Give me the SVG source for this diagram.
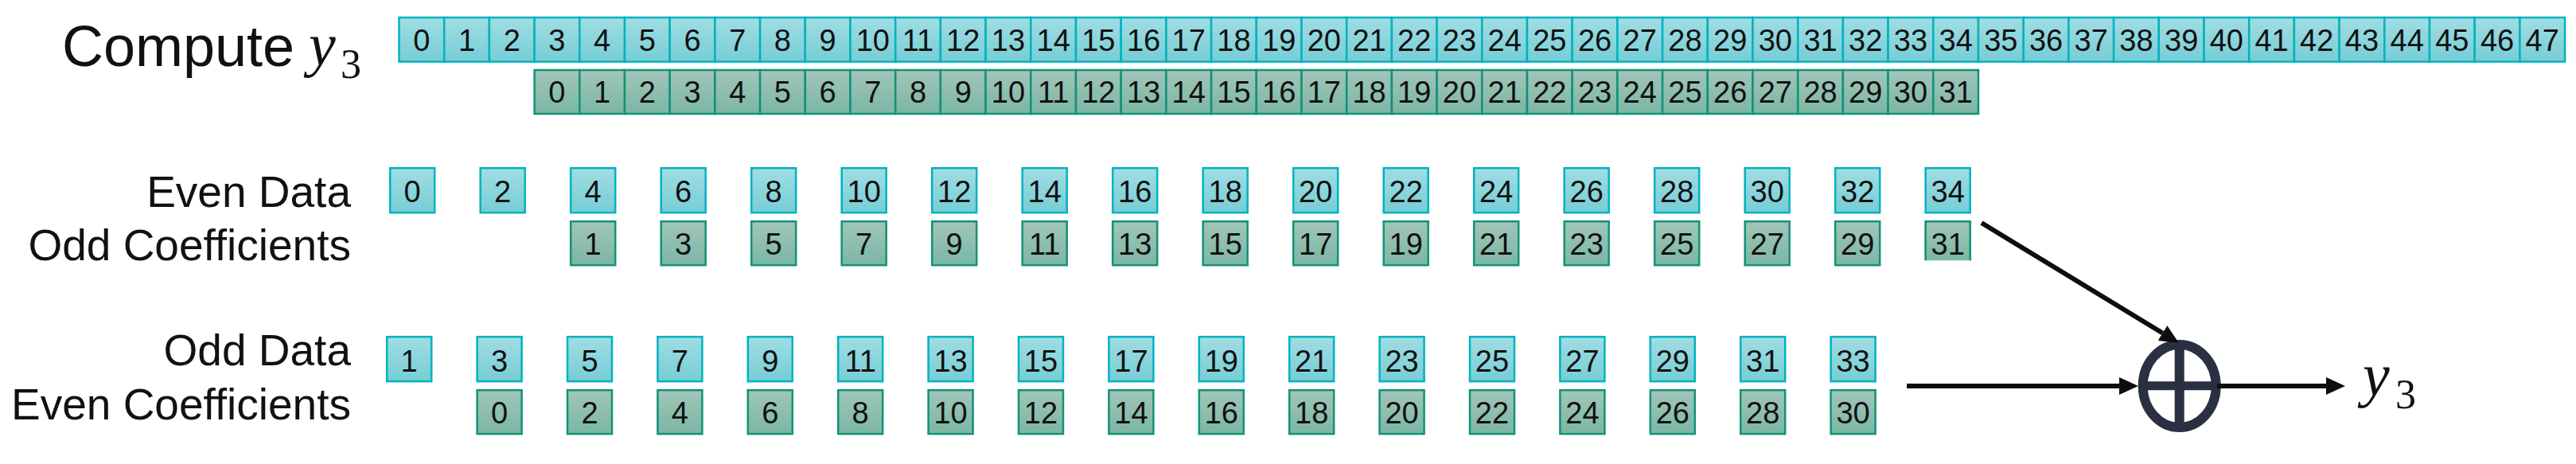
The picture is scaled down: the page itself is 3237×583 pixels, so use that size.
<svg xmlns="http://www.w3.org/2000/svg" width="3237" height="583" viewBox="0 0 3237 583">
<defs>
<linearGradient id="gc" x1="0" y1="0" x2="0" y2="1"><stop offset="0" stop-color="#a1dde4"/><stop offset="1" stop-color="#76cdd5"/></linearGradient>
<linearGradient id="gg" x1="0" y1="0" x2="0" y2="1"><stop offset="0" stop-color="#a2c6b9"/><stop offset="1" stop-color="#7ab6a4"/></linearGradient>
<marker id="ah" markerUnits="userSpaceOnUse" markerWidth="24" markerHeight="22" refX="0" refY="11" orient="auto" viewBox="0 0 24 22"><path d="M0,0 L24,11 L0,22 z" fill="#0d0d0d"/></marker>
</defs>
<style>
.c{fill:url(#gc);stroke:#00b3bf;stroke-width:2.5}
.g{fill:url(#gg);stroke:#129279;stroke-width:2.5}
.gf{fill:url(#gg);stroke:none}
.gs{fill:none;stroke:#129279;stroke-width:2.5}
text{font-family:"Liberation Sans",Arial,sans-serif;fill:#111}
.n{font-size:38px;text-anchor:middle}
.lab{font-size:55px;text-anchor:end}
.conn{stroke:#0d0d0d;stroke-width:6;fill:none}
.sum{stroke:#2a2f42;fill:none}
</style>

<g id="title"><text x="78" y="83" style="font-size:72px">Compute</text><text x="388" y="82" style="font-family:'Liberation Serif','Times New Roman',serif;font-style:italic;font-size:76px">y</text><text x="428" y="98" style="font-family:'Liberation Serif','Times New Roman',serif;font-size:52px">3</text></g>

<g id="labels">
<text class="lab" x="441" y="260">Even Data</text>
<text class="lab" x="441" y="327">Odd Coefficients</text>
<text class="lab" x="441" y="459">Odd Data</text>
<text class="lab" x="441" y="527">Even Coefficients</text>
</g>

<g id="data-row">
<g id="d0" transform="translate(501.5,22)"><rect class="c" width="56.7" height="55.5"/><text class="n" x="28.35" y="42">0</text></g>
<g id="d1" transform="translate(558.2,22)"><rect class="c" width="56.7" height="55.5"/><text class="n" x="28.35" y="42">1</text></g>
<g id="d2" transform="translate(614.9,22)"><rect class="c" width="56.7" height="55.5"/><text class="n" x="28.35" y="42">2</text></g>
<g id="d3" transform="translate(671.6,22)"><rect class="c" width="56.7" height="55.5"/><text class="n" x="28.35" y="42">3</text></g>
<g id="d4" transform="translate(728.3,22)"><rect class="c" width="56.7" height="55.5"/><text class="n" x="28.35" y="42">4</text></g>
<g id="d5" transform="translate(785,22)"><rect class="c" width="56.7" height="55.5"/><text class="n" x="28.35" y="42">5</text></g>
<g id="d6" transform="translate(841.7,22)"><rect class="c" width="56.7" height="55.5"/><text class="n" x="28.35" y="42">6</text></g>
<g id="d7" transform="translate(898.4,22)"><rect class="c" width="56.7" height="55.5"/><text class="n" x="28.35" y="42">7</text></g>
<g id="d8" transform="translate(955.1,22)"><rect class="c" width="56.7" height="55.5"/><text class="n" x="28.35" y="42">8</text></g>
<g id="d9" transform="translate(1011.8,22)"><rect class="c" width="56.7" height="55.5"/><text class="n" x="28.35" y="42">9</text></g>
<g id="d10" transform="translate(1068.5,22)"><rect class="c" width="56.7" height="55.5"/><text class="n" x="28.35" y="42">10</text></g>
<g id="d11" transform="translate(1125.2,22)"><rect class="c" width="56.7" height="55.5"/><text class="n" x="28.35" y="42">11</text></g>
<g id="d12" transform="translate(1181.9,22)"><rect class="c" width="56.7" height="55.5"/><text class="n" x="28.35" y="42">12</text></g>
<g id="d13" transform="translate(1238.6,22)"><rect class="c" width="56.7" height="55.5"/><text class="n" x="28.35" y="42">13</text></g>
<g id="d14" transform="translate(1295.3,22)"><rect class="c" width="56.7" height="55.5"/><text class="n" x="28.35" y="42">14</text></g>
<g id="d15" transform="translate(1352,22)"><rect class="c" width="56.7" height="55.5"/><text class="n" x="28.35" y="42">15</text></g>
<g id="d16" transform="translate(1408.7,22)"><rect class="c" width="56.7" height="55.5"/><text class="n" x="28.35" y="42">16</text></g>
<g id="d17" transform="translate(1465.4,22)"><rect class="c" width="56.7" height="55.5"/><text class="n" x="28.35" y="42">17</text></g>
<g id="d18" transform="translate(1522.1,22)"><rect class="c" width="56.7" height="55.5"/><text class="n" x="28.35" y="42">18</text></g>
<g id="d19" transform="translate(1578.8,22)"><rect class="c" width="56.7" height="55.5"/><text class="n" x="28.35" y="42">19</text></g>
<g id="d20" transform="translate(1635.5,22)"><rect class="c" width="56.7" height="55.5"/><text class="n" x="28.35" y="42">20</text></g>
<g id="d21" transform="translate(1692.2,22)"><rect class="c" width="56.7" height="55.5"/><text class="n" x="28.35" y="42">21</text></g>
<g id="d22" transform="translate(1748.9,22)"><rect class="c" width="56.7" height="55.5"/><text class="n" x="28.35" y="42">22</text></g>
<g id="d23" transform="translate(1805.6,22)"><rect class="c" width="56.7" height="55.5"/><text class="n" x="28.35" y="42">23</text></g>
<g id="d24" transform="translate(1862.3,22)"><rect class="c" width="56.7" height="55.5"/><text class="n" x="28.35" y="42">24</text></g>
<g id="d25" transform="translate(1919,22)"><rect class="c" width="56.7" height="55.5"/><text class="n" x="28.35" y="42">25</text></g>
<g id="d26" transform="translate(1975.7,22)"><rect class="c" width="56.7" height="55.5"/><text class="n" x="28.35" y="42">26</text></g>
<g id="d27" transform="translate(2032.4,22)"><rect class="c" width="56.7" height="55.5"/><text class="n" x="28.35" y="42">27</text></g>
<g id="d28" transform="translate(2089.1,22)"><rect class="c" width="56.7" height="55.5"/><text class="n" x="28.35" y="42">28</text></g>
<g id="d29" transform="translate(2145.8,22)"><rect class="c" width="56.7" height="55.5"/><text class="n" x="28.35" y="42">29</text></g>
<g id="d30" transform="translate(2202.5,22)"><rect class="c" width="56.7" height="55.5"/><text class="n" x="28.35" y="42">30</text></g>
<g id="d31" transform="translate(2259.2,22)"><rect class="c" width="56.7" height="55.5"/><text class="n" x="28.35" y="42">31</text></g>
<g id="d32" transform="translate(2315.9,22)"><rect class="c" width="56.7" height="55.5"/><text class="n" x="28.35" y="42">32</text></g>
<g id="d33" transform="translate(2372.6,22)"><rect class="c" width="56.7" height="55.5"/><text class="n" x="28.35" y="42">33</text></g>
<g id="d34" transform="translate(2429.3,22)"><rect class="c" width="56.7" height="55.5"/><text class="n" x="28.35" y="42">34</text></g>
<g id="d35" transform="translate(2486,22)"><rect class="c" width="56.7" height="55.5"/><text class="n" x="28.35" y="42">35</text></g>
<g id="d36" transform="translate(2542.7,22)"><rect class="c" width="56.7" height="55.5"/><text class="n" x="28.35" y="42">36</text></g>
<g id="d37" transform="translate(2599.4,22)"><rect class="c" width="56.7" height="55.5"/><text class="n" x="28.35" y="42">37</text></g>
<g id="d38" transform="translate(2656.1,22)"><rect class="c" width="56.7" height="55.5"/><text class="n" x="28.35" y="42">38</text></g>
<g id="d39" transform="translate(2712.8,22)"><rect class="c" width="56.7" height="55.5"/><text class="n" x="28.35" y="42">39</text></g>
<g id="d40" transform="translate(2769.5,22)"><rect class="c" width="56.7" height="55.5"/><text class="n" x="28.35" y="42">40</text></g>
<g id="d41" transform="translate(2826.2,22)"><rect class="c" width="56.7" height="55.5"/><text class="n" x="28.35" y="42">41</text></g>
<g id="d42" transform="translate(2882.9,22)"><rect class="c" width="56.7" height="55.5"/><text class="n" x="28.35" y="42">42</text></g>
<g id="d43" transform="translate(2939.6,22)"><rect class="c" width="56.7" height="55.5"/><text class="n" x="28.35" y="42">43</text></g>
<g id="d44" transform="translate(2996.3,22)"><rect class="c" width="56.7" height="55.5"/><text class="n" x="28.35" y="42">44</text></g>
<g id="d45" transform="translate(3053,22)"><rect class="c" width="56.7" height="55.5"/><text class="n" x="28.35" y="42">45</text></g>
<g id="d46" transform="translate(3109.7,22)"><rect class="c" width="56.7" height="55.5"/><text class="n" x="28.35" y="42">46</text></g>
<g id="d47" transform="translate(3166.4,22)"><rect class="c" width="56.7" height="55.5"/><text class="n" x="28.35" y="42">47</text></g>
</g>

<g id="coef-row">
<g id="k0" transform="translate(671.6,88)"><rect class="g" width="56.7" height="55"/><text class="n" x="28.35" y="41">0</text></g>
<g id="k1" transform="translate(728.3,88)"><rect class="g" width="56.7" height="55"/><text class="n" x="28.35" y="41">1</text></g>
<g id="k2" transform="translate(785,88)"><rect class="g" width="56.7" height="55"/><text class="n" x="28.35" y="41">2</text></g>
<g id="k3" transform="translate(841.7,88)"><rect class="g" width="56.7" height="55"/><text class="n" x="28.35" y="41">3</text></g>
<g id="k4" transform="translate(898.4,88)"><rect class="g" width="56.7" height="55"/><text class="n" x="28.35" y="41">4</text></g>
<g id="k5" transform="translate(955.1,88)"><rect class="g" width="56.7" height="55"/><text class="n" x="28.35" y="41">5</text></g>
<g id="k6" transform="translate(1011.8,88)"><rect class="g" width="56.7" height="55"/><text class="n" x="28.35" y="41">6</text></g>
<g id="k7" transform="translate(1068.5,88)"><rect class="g" width="56.7" height="55"/><text class="n" x="28.35" y="41">7</text></g>
<g id="k8" transform="translate(1125.2,88)"><rect class="g" width="56.7" height="55"/><text class="n" x="28.35" y="41">8</text></g>
<g id="k9" transform="translate(1181.9,88)"><rect class="g" width="56.7" height="55"/><text class="n" x="28.35" y="41">9</text></g>
<g id="k10" transform="translate(1238.6,88)"><rect class="g" width="56.7" height="55"/><text class="n" x="28.35" y="41">10</text></g>
<g id="k11" transform="translate(1295.3,88)"><rect class="g" width="56.7" height="55"/><text class="n" x="28.35" y="41">11</text></g>
<g id="k12" transform="translate(1352,88)"><rect class="g" width="56.7" height="55"/><text class="n" x="28.35" y="41">12</text></g>
<g id="k13" transform="translate(1408.7,88)"><rect class="g" width="56.7" height="55"/><text class="n" x="28.35" y="41">13</text></g>
<g id="k14" transform="translate(1465.4,88)"><rect class="g" width="56.7" height="55"/><text class="n" x="28.35" y="41">14</text></g>
<g id="k15" transform="translate(1522.1,88)"><rect class="g" width="56.7" height="55"/><text class="n" x="28.35" y="41">15</text></g>
<g id="k16" transform="translate(1578.8,88)"><rect class="g" width="56.7" height="55"/><text class="n" x="28.35" y="41">16</text></g>
<g id="k17" transform="translate(1635.5,88)"><rect class="g" width="56.7" height="55"/><text class="n" x="28.35" y="41">17</text></g>
<g id="k18" transform="translate(1692.2,88)"><rect class="g" width="56.7" height="55"/><text class="n" x="28.35" y="41">18</text></g>
<g id="k19" transform="translate(1748.9,88)"><rect class="g" width="56.7" height="55"/><text class="n" x="28.35" y="41">19</text></g>
<g id="k20" transform="translate(1805.6,88)"><rect class="g" width="56.7" height="55"/><text class="n" x="28.35" y="41">20</text></g>
<g id="k21" transform="translate(1862.3,88)"><rect class="g" width="56.7" height="55"/><text class="n" x="28.35" y="41">21</text></g>
<g id="k22" transform="translate(1919,88)"><rect class="g" width="56.7" height="55"/><text class="n" x="28.35" y="41">22</text></g>
<g id="k23" transform="translate(1975.7,88)"><rect class="g" width="56.7" height="55"/><text class="n" x="28.35" y="41">23</text></g>
<g id="k24" transform="translate(2032.4,88)"><rect class="g" width="56.7" height="55"/><text class="n" x="28.35" y="41">24</text></g>
<g id="k25" transform="translate(2089.1,88)"><rect class="g" width="56.7" height="55"/><text class="n" x="28.35" y="41">25</text></g>
<g id="k26" transform="translate(2145.8,88)"><rect class="g" width="56.7" height="55"/><text class="n" x="28.35" y="41">26</text></g>
<g id="k27" transform="translate(2202.5,88)"><rect class="g" width="56.7" height="55"/><text class="n" x="28.35" y="41">27</text></g>
<g id="k28" transform="translate(2259.2,88)"><rect class="g" width="56.7" height="55"/><text class="n" x="28.35" y="41">28</text></g>
<g id="k29" transform="translate(2315.9,88)"><rect class="g" width="56.7" height="55"/><text class="n" x="28.35" y="41">29</text></g>
<g id="k30" transform="translate(2372.6,88)"><rect class="g" width="56.7" height="55"/><text class="n" x="28.35" y="41">30</text></g>
<g id="k31" transform="translate(2429.3,88)"><rect class="g" width="56.7" height="55"/><text class="n" x="28.35" y="41">31</text></g>
</g>

<g id="even-data">
<g id="ed0" transform="translate(490.2,211.2)"><rect class="c" width="56" height="56"/><text class="n" x="28" y="43">0</text></g>
<g id="ed2" transform="translate(603.7,211.2)"><rect class="c" width="56" height="56"/><text class="n" x="28" y="43">2</text></g>
<g id="ed4" transform="translate(717.2,211.2)"><rect class="c" width="56" height="56"/><text class="n" x="28" y="43">4</text></g>
<g id="ed6" transform="translate(830.7,211.2)"><rect class="c" width="56" height="56"/><text class="n" x="28" y="43">6</text></g>
<g id="ed8" transform="translate(944.2,211.2)"><rect class="c" width="56" height="56"/><text class="n" x="28" y="43">8</text></g>
<g id="ed10" transform="translate(1057.7,211.2)"><rect class="c" width="56" height="56"/><text class="n" x="28" y="43">10</text></g>
<g id="ed12" transform="translate(1171.2,211.2)"><rect class="c" width="56" height="56"/><text class="n" x="28" y="43">12</text></g>
<g id="ed14" transform="translate(1284.7,211.2)"><rect class="c" width="56" height="56"/><text class="n" x="28" y="43">14</text></g>
<g id="ed16" transform="translate(1398.2,211.2)"><rect class="c" width="56" height="56"/><text class="n" x="28" y="43">16</text></g>
<g id="ed18" transform="translate(1511.7,211.2)"><rect class="c" width="56" height="56"/><text class="n" x="28" y="43">18</text></g>
<g id="ed20" transform="translate(1625.2,211.2)"><rect class="c" width="56" height="56"/><text class="n" x="28" y="43">20</text></g>
<g id="ed22" transform="translate(1738.7,211.2)"><rect class="c" width="56" height="56"/><text class="n" x="28" y="43">22</text></g>
<g id="ed24" transform="translate(1852.2,211.2)"><rect class="c" width="56" height="56"/><text class="n" x="28" y="43">24</text></g>
<g id="ed26" transform="translate(1965.7,211.2)"><rect class="c" width="56" height="56"/><text class="n" x="28" y="43">26</text></g>
<g id="ed28" transform="translate(2079.2,211.2)"><rect class="c" width="56" height="56"/><text class="n" x="28" y="43">28</text></g>
<g id="ed30" transform="translate(2192.7,211.2)"><rect class="c" width="56" height="56"/><text class="n" x="28" y="43">30</text></g>
<g id="ed32" transform="translate(2306.2,211.2)"><rect class="c" width="56" height="56"/><text class="n" x="28" y="43">32</text></g>
<g id="ed34" transform="translate(2419.7,211.2)"><rect class="c" width="56" height="56"/><text class="n" x="28" y="43">34</text></g>
</g>

<g id="odd-coef">
<g id="oc1" transform="translate(717.2,278.2)"><rect class="g" width="56" height="55"/><text class="n" x="28" y="42">1</text></g>
<g id="oc3" transform="translate(830.7,278.2)"><rect class="g" width="56" height="55"/><text class="n" x="28" y="42">3</text></g>
<g id="oc5" transform="translate(944.2,278.2)"><rect class="g" width="56" height="55"/><text class="n" x="28" y="42">5</text></g>
<g id="oc7" transform="translate(1057.7,278.2)"><rect class="g" width="56" height="55"/><text class="n" x="28" y="42">7</text></g>
<g id="oc9" transform="translate(1171.2,278.2)"><rect class="g" width="56" height="55"/><text class="n" x="28" y="42">9</text></g>
<g id="oc11" transform="translate(1284.7,278.2)"><rect class="g" width="56" height="55"/><text class="n" x="28" y="42">11</text></g>
<g id="oc13" transform="translate(1398.2,278.2)"><rect class="g" width="56" height="55"/><text class="n" x="28" y="42">13</text></g>
<g id="oc15" transform="translate(1511.7,278.2)"><rect class="g" width="56" height="55"/><text class="n" x="28" y="42">15</text></g>
<g id="oc17" transform="translate(1625.2,278.2)"><rect class="g" width="56" height="55"/><text class="n" x="28" y="42">17</text></g>
<g id="oc19" transform="translate(1738.7,278.2)"><rect class="g" width="56" height="55"/><text class="n" x="28" y="42">19</text></g>
<g id="oc21" transform="translate(1852.2,278.2)"><rect class="g" width="56" height="55"/><text class="n" x="28" y="42">21</text></g>
<g id="oc23" transform="translate(1965.7,278.2)"><rect class="g" width="56" height="55"/><text class="n" x="28" y="42">23</text></g>
<g id="oc25" transform="translate(2079.2,278.2)"><rect class="g" width="56" height="55"/><text class="n" x="28" y="42">25</text></g>
<g id="oc27" transform="translate(2192.7,278.2)"><rect class="g" width="56" height="55"/><text class="n" x="28" y="42">27</text></g>
<g id="oc29" transform="translate(2306.2,278.2)"><rect class="g" width="56" height="55"/><text class="n" x="28" y="42">29</text></g>
<g id="oc31" transform="translate(2419.7,278.2)"><rect class="gf" x="-1.25" y="0" width="58.5" height="49"/><path class="gs" d="M0,49 V0 H56 V49"/><text class="n" x="28" y="42">31</text></g>
</g>

<g id="odd-data">
<g id="od1" transform="translate(486.2,423.2)"><rect class="c" width="56" height="56"/><text class="n" x="28" y="44">1</text></g>
<g id="od3" transform="translate(599.6,423.2)"><rect class="c" width="56" height="56"/><text class="n" x="28" y="44">3</text></g>
<g id="od5" transform="translate(713,423.2)"><rect class="c" width="56" height="56"/><text class="n" x="28" y="44">5</text></g>
<g id="od7" transform="translate(826.4,423.2)"><rect class="c" width="56" height="56"/><text class="n" x="28" y="44">7</text></g>
<g id="od9" transform="translate(939.8,423.2)"><rect class="c" width="56" height="56"/><text class="n" x="28" y="44">9</text></g>
<g id="od11" transform="translate(1053.2,423.2)"><rect class="c" width="56" height="56"/><text class="n" x="28" y="44">11</text></g>
<g id="od13" transform="translate(1166.6,423.2)"><rect class="c" width="56" height="56"/><text class="n" x="28" y="44">13</text></g>
<g id="od15" transform="translate(1280,423.2)"><rect class="c" width="56" height="56"/><text class="n" x="28" y="44">15</text></g>
<g id="od17" transform="translate(1393.4,423.2)"><rect class="c" width="56" height="56"/><text class="n" x="28" y="44">17</text></g>
<g id="od19" transform="translate(1506.8,423.2)"><rect class="c" width="56" height="56"/><text class="n" x="28" y="44">19</text></g>
<g id="od21" transform="translate(1620.2,423.2)"><rect class="c" width="56" height="56"/><text class="n" x="28" y="44">21</text></g>
<g id="od23" transform="translate(1733.6,423.2)"><rect class="c" width="56" height="56"/><text class="n" x="28" y="44">23</text></g>
<g id="od25" transform="translate(1847,423.2)"><rect class="c" width="56" height="56"/><text class="n" x="28" y="44">25</text></g>
<g id="od27" transform="translate(1960.4,423.2)"><rect class="c" width="56" height="56"/><text class="n" x="28" y="44">27</text></g>
<g id="od29" transform="translate(2073.8,423.2)"><rect class="c" width="56" height="56"/><text class="n" x="28" y="44">29</text></g>
<g id="od31" transform="translate(2187.2,423.2)"><rect class="c" width="56" height="56"/><text class="n" x="28" y="44">31</text></g>
<g id="od33" transform="translate(2300.6,423.2)"><rect class="c" width="56" height="56"/><text class="n" x="28" y="44">33</text></g>
</g>

<g id="even-coef">
<g id="ec0" transform="translate(599.6,490.2)"><rect class="g" width="56" height="55"/><text class="n" x="28" y="42">0</text></g>
<g id="ec2" transform="translate(713,490.2)"><rect class="g" width="56" height="55"/><text class="n" x="28" y="42">2</text></g>
<g id="ec4" transform="translate(826.4,490.2)"><rect class="g" width="56" height="55"/><text class="n" x="28" y="42">4</text></g>
<g id="ec6" transform="translate(939.8,490.2)"><rect class="g" width="56" height="55"/><text class="n" x="28" y="42">6</text></g>
<g id="ec8" transform="translate(1053.2,490.2)"><rect class="g" width="56" height="55"/><text class="n" x="28" y="42">8</text></g>
<g id="ec10" transform="translate(1166.6,490.2)"><rect class="g" width="56" height="55"/><text class="n" x="28" y="42">10</text></g>
<g id="ec12" transform="translate(1280,490.2)"><rect class="g" width="56" height="55"/><text class="n" x="28" y="42">12</text></g>
<g id="ec14" transform="translate(1393.4,490.2)"><rect class="g" width="56" height="55"/><text class="n" x="28" y="42">14</text></g>
<g id="ec16" transform="translate(1506.8,490.2)"><rect class="g" width="56" height="55"/><text class="n" x="28" y="42">16</text></g>
<g id="ec18" transform="translate(1620.2,490.2)"><rect class="g" width="56" height="55"/><text class="n" x="28" y="42">18</text></g>
<g id="ec20" transform="translate(1733.6,490.2)"><rect class="g" width="56" height="55"/><text class="n" x="28" y="42">20</text></g>
<g id="ec22" transform="translate(1847,490.2)"><rect class="g" width="56" height="55"/><text class="n" x="28" y="42">22</text></g>
<g id="ec24" transform="translate(1960.4,490.2)"><rect class="g" width="56" height="55"/><text class="n" x="28" y="42">24</text></g>
<g id="ec26" transform="translate(2073.8,490.2)"><rect class="g" width="56" height="55"/><text class="n" x="28" y="42">26</text></g>
<g id="ec28" transform="translate(2187.2,490.2)"><rect class="g" width="56" height="55"/><text class="n" x="28" y="42">28</text></g>
<g id="ec30" transform="translate(2300.6,490.2)"><rect class="g" width="56" height="55"/><text class="n" x="28" y="42">30</text></g>
</g>

<g id="sum">
<ellipse class="sum" cx="2738.7" cy="485" rx="46" ry="52" stroke-width="12"/>
<line class="sum" x1="2738.7" y1="433" x2="2738.7" y2="537" stroke-width="12"/>
<line class="sum" x1="2692.7" y1="484.7" x2="2784.7" y2="484.7" stroke-width="11"/>
</g>

<g id="output"><text x="2969" y="497" style="font-family:'Liberation Serif','Times New Roman',serif;font-style:italic;font-size:76px">y</text><text x="3010" y="513" style="font-family:'Liberation Serif','Times New Roman',serif;font-size:52px">3</text></g>

<g id="connectors">
<line class="conn" x1="2490" y1="280" x2="2717.5" y2="418.5" marker-end="url(#ah)"/>
<line class="conn" x1="2396" y1="485" x2="2663" y2="485" marker-end="url(#ah)"/>
<line class="conn" x1="2786" y1="485" x2="2923" y2="485" marker-end="url(#ah)"/>
</g>
</svg>
